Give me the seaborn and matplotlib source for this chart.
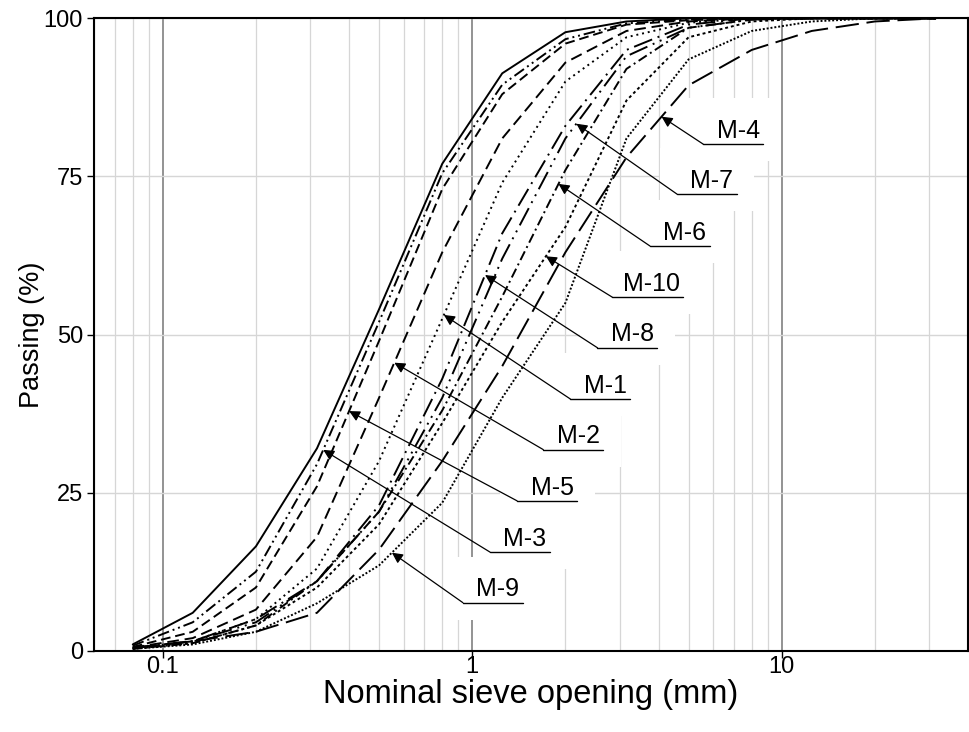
import numpy as np
import pandas as pd
import seaborn as sns
import matplotlib.pyplot as plt
from matplotlib.ticker import LogLocator, FixedLocator, NullFormatter
from matplotlib.patches import Rectangle

# sieve openings (mm) and cumulative passing (%) for each mix
sieve = [0.08, 0.125, 0.2, 0.315, 0.5, 0.8, 1.25, 2, 3.15, 5, 8, 12.5, 20, 31.5]

ref = [1.0, 6.0, 16.5, 32, 54, 77, 91.3, 97.8, 99.5, 100, 100, 100, 100, 100]
m3 = [0.8, 4.5, 12.5, 29.5, 52, 75.5, 89.5, 96.7, 99.2, 99.8, 100, 100, 100, 100]
m5 = [0.6, 3.0, 10, 26, 49, 73, 88, 96, 99, 99.7, 100, 100, 100, 100]
m2 = [0.5, 2.0, 6.5, 18, 40, 63, 81, 93, 98, 99.5, 100, 100, 100, 100]
m1 = [0.4, 1.5, 5.0, 13, 30, 52.5, 74, 90, 97, 99.3, 100, 100, 100, 100]
m8 = [0.4, 1.5, 5.0, 11, 23, 43, 66, 83, 95, 99, 100, 100, 100, 100]
m10 = [0.3, 1.2, 4.0, 10, 20, 36, 52, 67, 87, 97, 99.5, 100, 100, 100]
m6 = [0.3, 1.2, 4.0, 11, 22, 38, 56, 76, 92, 98.5, 99.8, 100, 100, 100]
m7 = [0.4, 1.5, 4.5, 11, 22, 40, 62, 81, 94, 98.5, 99.8, 100, 100, 100]
m9 = [0.3, 1.0, 3.0, 7.5, 13.5, 23.4, 40, 55, 81, 93.5, 98, 99.5, 100, 100]
m4 = [0.5, 1.5, 3.0, 6.0, 16, 30, 45, 63, 78, 89.4, 95, 98, 99.5, 100]

mixes = {"ref": ref, "M-3": m3, "M-5": m5, "M-2": m2, "M-1": m1, "M-8": m8,
         "M-10": m10, "M-6": m6, "M-7": m7, "M-9": m9, "M-4": m4}

# labelled curves and where along x their arrows point
label_names = ["M-4", "M-7", "M-6", "M-10", "M-8", "M-1", "M-2", "M-5", "M-3", "M-9"]
arrow_x = [4.09, 2.17, 1.9, 1.73, 1.1, 0.81, 0.56, 0.40, 0.33, 0.55]

# build a long table for seaborn
rows = []
for name, vals in mixes.items():
    for s, p in zip(sieve, vals):
        rows.append((name, s, p))
df = pd.DataFrame(rows, columns=["mix", "sieve", "passing"])

dash_styles = {
    "ref": "",
    "M-3": (6, 2, 1, 2, 1, 2),
    "M-5": (5, 2.5),
    "M-2": (6, 3),
    "M-1": (1, 2),
    "M-8": (10, 3, 1, 3),
    "M-10": (1.5, 1.5),
    "M-6": (5, 2, 1, 2),
    "M-7": (10, 3, 1, 3, 1, 3),
    "M-9": (1, 1),
    "M-4": (12, 4),
}

sns.set_theme(style="ticks")
plt.rcParams["font.family"] = ["Liberation Sans", "DejaVu Sans"]
plt.rcParams["text.color"] = "black"
plt.rcParams["axes.labelcolor"] = "black"
plt.rcParams["xtick.color"] = "black"
plt.rcParams["ytick.color"] = "black"

fig = plt.figure(figsize=(9.7, 7.32), dpi=100)
ax = fig.add_axes([0.097, 0.111, 0.901, 0.864])
ax.set_xscale("log")

sns.lineplot(data=df, x="sieve", y="passing", style="mix", dashes=dash_styles,
             color="black", linewidth=1.4, legend=False, ax=ax, zorder=2)

ax.set_xlim(0.06, 40)
ax.set_ylim(0, 100)

# grid: light minor decades, darker major decades, light horizontals
ax.xaxis.set_major_locator(FixedLocator([0.1, 1, 10]))
ax.set_xticklabels(["0.1", "1", "10"])
ax.xaxis.set_minor_locator(LogLocator(base=10, subs=np.arange(2, 10)))
ax.xaxis.set_minor_formatter(NullFormatter())
ax.set_yticks([0, 25, 50, 75, 100])
ax.set_axisbelow(True)
ax.grid(which="minor", axis="x", color="#d6d6d6", lw=0.9)
ax.grid(which="major", axis="x", color="#8a8a8a", lw=1.3)
ax.grid(which="major", axis="y", color="#d6d6d6", lw=1.0)
ax.tick_params(which="minor", length=0)
ax.tick_params(which="major", length=5, width=1, color="black", labelsize=17)
ax.tick_params(axis="x", pad=-1.5)
ax.tick_params(axis="y", pad=3)

for sp in ax.spines.values():
    sp.set_visible(True)
    sp.set_color("black")
    sp.set_linewidth(1.5)

ax.set_xlabel("Nominal sieve opening (mm)", fontsize=23.5, labelpad=1)
ax.set_ylabel("Passing (%)", fontsize=19.5, labelpad=-1)

# label positions (axes fraction, left end of underline)
label_pos = [(0.697, 0.801), (0.667, 0.722), (0.636, 0.640), (0.593, 0.559),
             (0.576, 0.479), (0.545, 0.398), (0.514, 0.318), (0.484, 0.237),
             (0.453, 0.156), (0.422, 0.076)]

for name, xa, (lx, ly) in zip(label_names, arrow_x, label_pos):
    vals = mixes[name]
    ya = np.interp(np.log10(xa), np.log10(sieve), vals)
    w = 0.081 if name == "M-10" else 0.0686
    # white patch hides the grid behind the label
    ax.add_patch(Rectangle((lx - 0.02, ly - 0.027), w + 0.04, 0.1,
                           transform=ax.transAxes, facecolor="white",
                           edgecolor="none", zorder=1))
    ax.plot([lx, lx + w], [ly, ly], transform=ax.transAxes, color="black",
            lw=1.0, zorder=3)
    ax.text(lx + w - 0.004, ly + 0.01, name, transform=ax.transAxes,
            ha="right", va="baseline", fontsize=18, zorder=3)
    ax.annotate("", xy=(xa, ya), xycoords="data",
                xytext=(lx, ly), textcoords="axes fraction",
                arrowprops=dict(arrowstyle="-|>", color="black", lw=0.9,
                                mutation_scale=16, shrinkA=0, shrinkB=0),
                zorder=3)

fig.savefig("out.png", dpi=100)
